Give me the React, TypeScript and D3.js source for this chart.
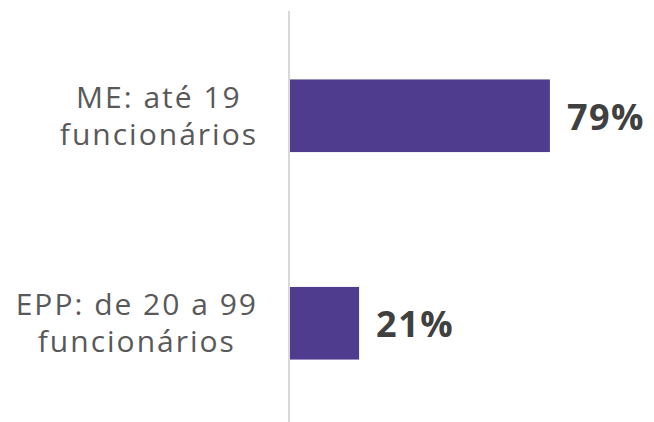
import React, { useEffect, useRef } from "react";
import * as d3 from "d3";

const categories: string[][] = [
  ["ME: até 19", "funcionários"],
  ["EPP: de 20 a 99", "funcionários"],
];
const values: number[] = [0.79, 0.21];
const valueLabels: string[] = ["79%", "21%"];

const W = 654;
const H = 422;

export default function App() {
  const ref = useRef<SVGSVGElement>(null);
  useEffect(() => {
    const svg = d3.select(ref.current);
    svg.selectAll("*").remove();
    const x0 = 290;
    const x = d3.scaleLinear().domain([0, 1]).range([x0, x0 + 329]);
    const y = d3
      .scaleBand<number>()
      .domain(values.map((_, i) => i))
      .range([12, 427])
      .paddingInner(0.65)
      .paddingOuter(0.325);

    svg
      .append("line")
      .attr("x1", x0 - 1)
      .attr("x2", x0 - 1)
      .attr("y1", 11)
      .attr("y2", H)
      .attr("stroke", "#d9d9d9")
      .attr("stroke-width", 2);

    values.forEach((v, i) => {
      const yb = y(i)!;
      const cy = yb + y.bandwidth() / 2;
      svg
        .append("rect")
        .attr("x", x(0))
        .attr("y", yb)
        .attr("width", x(v) - x(0))
        .attr("height", y.bandwidth())
        .attr("fill", "#4f3c8f");
      svg
        .append("text")
        .attr("x", x(v) + 17)
        .attr("y", cy + 14)
        .attr("font-family", "'Open Sans', sans-serif")
        .attr("font-weight", 700)
        .attr("font-size", 36)
        .attr("letter-spacing", 1.5)
        .attr("fill", "#404040")
        .text(valueLabels[i]);

      const g = svg.append("g");
      const lines = categories[i];
      const texts = lines.map((ln, j) =>
        g
          .append("text")
          .attr("y", cy - 8 + j * 37)
          .attr("font-family", "'Open Sans', sans-serif")
          .attr("font-size", 30)
          .attr("letter-spacing", 2)
          .attr("fill", "#595959")
          .attr("text-anchor", "middle")
          .text(ln)
      );
      const widths = texts.map((t) => (t.node() as SVGTextElement).getComputedTextLength());
      const maxW = Math.max(...widths);
      texts.forEach((t) => t.attr("x", 258 - maxW / 2));
    });
  }, []);
  return (
    <svg
      ref={ref}
      width={W}
      height={H}
      style={{ position: "absolute", left: 0, top: 0, background: "#fff" }}
    />
  );
}
